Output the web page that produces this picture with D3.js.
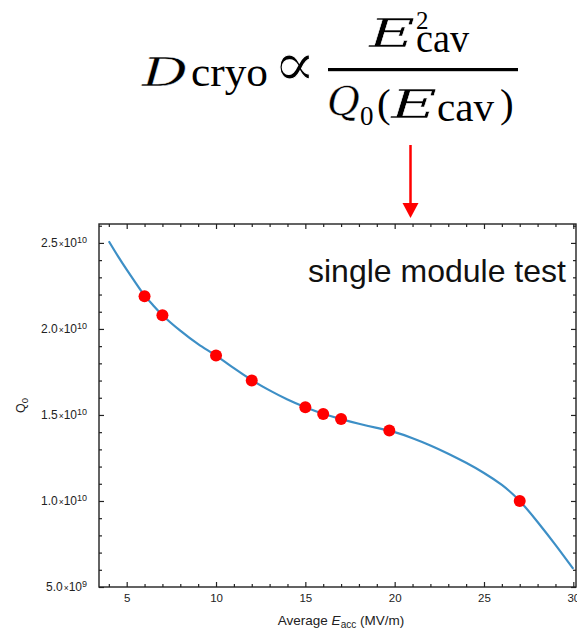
<!DOCTYPE html>
<html lang="en">
	<head>
		<meta charset="UTF-8" />
		<title>Q0 vs Eacc</title>
		<script src="https://d3js.org/d3.v7.min.js"></script>
		<style>
			body {
				margin: 0;
				background: #fff;
			}
			svg {
				display: block;
			}
			.axis text {
				font-family: 'Liberation Sans', Arial, sans-serif;
				fill: #222;
			}
			.axis line {
				stroke: #222;
				stroke-width: 1.2px;
			}
			.formula text {
				font-family: 'Liberation Serif', serif;
				fill: #000;
			}
			.formula text.it {
				font-family: 'DejaVu Serif', serif;
				font-style: italic;
				stroke: #fff;
				stroke-width: 0.4px;
			}
		</style>
	</head>
	<body>
		<svg width="577" height="632"></svg>
		<script>
			// measured points (single module test)
			const measE = [6, 7, 10, 12, 15, 16, 17, 19.7, 27];
			const measQ = [2.19e10, 2.08e10, 1.845e10, 1.70e10, 1.545e10, 1.505e10, 1.477e10, 1.409e10, 1.0e10];

			// fitted curve
			const fitE = [4, 4.5, 5, 5.5, 6, 6.5, 7, 8, 9, 10, 11, 12, 13, 14, 15, 16, 17, 18, 19, 20, 21, 22, 23, 24, 25, 26, 27, 28, 29, 30];
			const fitQ = [2.51, 2.425, 2.345, 2.268, 2.195, 2.135, 2.08, 1.99, 1.912, 1.845, 1.772, 1.703, 1.643, 1.59, 1.545, 1.507, 1.476, 1.449, 1.425, 1.40, 1.365, 1.323, 1.275, 1.222, 1.163, 1.093, 1.0, 0.878, 0.745, 0.605].map((v) => v * 1e10);

			const xMajor = [5, 10, 15, 20, 25, 30];
			const xMinor = d3.range(4, 31).filter((v) => v % 5 !== 0);
			const yMajor = [0.5e10, 1.0e10, 1.5e10, 2.0e10, 2.5e10];
			const yMinor = d3.range(5, 27).filter((k) => k % 5 !== 0).map((k) => k * 1e9);

			const svg = d3.select('svg');
			const pLeft = 99, pRight = 576, pTop = 224, pBottom = 587;

			const x = d3.scaleLinear().domain([3.45, 30.15]).range([pLeft, pRight]);
			const y = d3.scaleLinear().domain([5e9, 2.61e10]).range([pBottom, pTop]);

			// ---- formula above the chart ----
			const f = svg.append('g').attr('class', 'formula');
			function tx(str, px, py, size, cls, len) {
				const t = f.append('text')
					.attr('x', px)
					.attr('y', py)
					.attr('font-size', size)
					.attr('class', cls)
					.text(str);
				if (len) t.attr('textLength', len).attr('lengthAdjust', 'spacingAndGlyphs');
				return t;
			}
			tx('D', 142, 86, 40, 'it', 46);
			tx('cryo', 191, 86, 43, '', 77);
			tx('\u221D', 273, 86, 64, 'it').style('font-style', 'normal').style('stroke-width', '1.1px');
			tx('E', 369, 47, 39, 'it', 46);
			tx('2', 416, 29, 25, '');
			tx('cav', 416, 52, 39, '', 53);
			f.append('rect').attr('x', 328).attr('y', 68).attr('width', 190).attr('height', 3.2).attr('fill', '#000');
			tx('Q', 327, 115, 39, 'it', 33);
			tx('0', 360, 125, 27, '');
			tx('(', 377, 117, 41, '');
			tx('E', 391, 118, 39, 'it', 46);
			tx('cav', 437, 121, 41, '', 57);
			tx(')', 500, 117, 41, '');

			// red arrow
			svg.append('line')
				.attr('x1', 410.5).attr('x2', 410.5)
				.attr('y1', 145).attr('y2', 206)
				.attr('stroke', '#f00').attr('stroke-width', 2.5);
			svg.append('path')
				.attr('d', 'M402.5,203L418.5,203L410.5,218Z')
				.attr('fill', '#f00');

			// ---- axes, ticks pointing inward ----
			function ax(gen, tr, vals, len) {
				return svg.append('g')
					.attr('class', 'axis')
					.attr('transform', tr)
					.call(gen.tickValues(vals).tickSizeInner(-len).tickSizeOuter(0).tickFormat(''))
					.call((g) => g.select('.domain').remove());
			}
			const bx = ax(d3.axisBottom(x), `translate(0,${pBottom})`, xMajor, 5);
			ax(d3.axisBottom(x), `translate(0,${pBottom})`, xMinor, 3);
			ax(d3.axisTop(x), `translate(0,${pTop})`, xMajor, 5);
			ax(d3.axisTop(x), `translate(0,${pTop})`, xMinor, 3);
			const ly = ax(d3.axisLeft(y), `translate(${pLeft},0)`, yMajor, 5);
			ax(d3.axisLeft(y), `translate(${pLeft},0)`, yMinor, 3);
			ax(d3.axisRight(y), `translate(${pRight},0)`, yMajor, 5);
			ax(d3.axisRight(y), `translate(${pRight},0)`, yMinor, 3);

			bx.selectAll('.tick text')
				.attr('y', 7)
				.attr('font-size', 11.5)
				.text((d) => d);

			ly.selectAll('.tick text')
				.attr('x', -12)
				.attr('font-size', 12)
				.each(function (d) {
					const e = Math.floor(Math.log10(d));
					const m = (d / Math.pow(10, e)).toFixed(1);
					const t = d3.select(this).text(null);
					t.append('tspan').text(m);
					t.append('tspan').attr('font-size', 8.5).attr('dx', 1).text('\u00D7');
					t.append('tspan').text('10');
					t.append('tspan').attr('font-size', 9).attr('dy', '-0.5em').text(e);
				});

			// frame
			svg.append('rect')
				.attr('x', pLeft).attr('y', pTop)
				.attr('width', pRight - pLeft).attr('height', pBottom - pTop)
				.attr('fill', 'none')
				.attr('stroke', '#222')
				.attr('stroke-width', 1.4);

			// axis titles
			const xt = svg.append('text')
				.attr('x', 341).attr('y', 625)
				.attr('text-anchor', 'middle')
				.attr('font-size', 13.5)
				.attr('font-family', "'Liberation Sans', Arial, sans-serif")
				.attr('fill', '#222');
			xt.append('tspan').text('Average ');
			xt.append('tspan').attr('font-style', 'italic').text('E');
			xt.append('tspan').attr('font-size', 10).attr('dy', 3).text('acc');
			xt.append('tspan').attr('dy', -3).text(' (MV/m)');

			const yt = svg.append('text')
				.attr('transform', `translate(25,${(pTop + pBottom) / 2}) rotate(-90)`)
				.attr('text-anchor', 'middle')
				.attr('font-size', 12.5)
				.attr('font-family', "'Liberation Sans', Arial, sans-serif")
				.attr('fill', '#222');
			yt.append('tspan').text('Q');
			yt.append('tspan').attr('font-size', 9.5).attr('dy', 3).text('0');

			// fitted curve
			const line = d3.line()
				.x((d, i) => x(fitE[i]))
				.y((d) => y(d))
				.curve(d3.curveNatural);
			svg.append('path')
				.datum(fitQ)
				.attr('d', line)
				.attr('fill', 'none')
				.attr('stroke', '#3d8fc6')
				.attr('stroke-width', 2.2);

			// measured points
			svg.append('g')
				.selectAll('circle')
				.data(measQ)
				.enter()
				.append('circle')
				.attr('cx', (d, i) => x(measE[i]))
				.attr('cy', (d) => y(d))
				.attr('r', 6)
				.attr('fill', '#f00');

			svg.append('text')
				.attr('x', 308).attr('y', 282)
				.attr('font-size', 32)
				.attr('font-family', "'Liberation Sans', Arial, sans-serif")
				.attr('fill', '#111')
				.text('single module test');
		</script>
	</body>
</html>
